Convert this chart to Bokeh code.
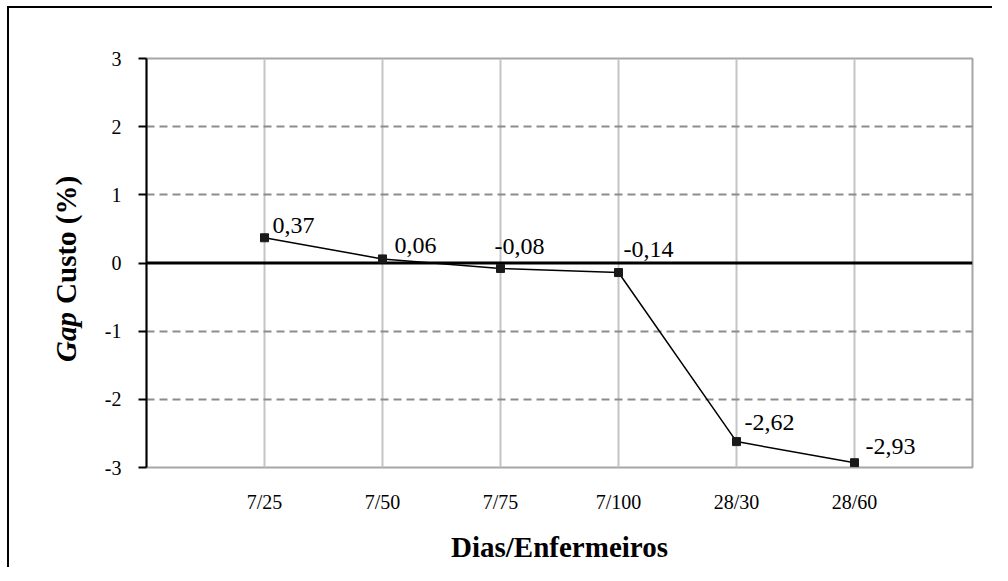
import math
from bokeh.plotting import figure
from bokeh.models import ColumnDataSource, FixedTicker, Span, Label, LabelSet
from bokeh.embed import file_html
from bokeh.resources import INLINE

categories = ["7/25", "7/50", "7/75", "7/100", "28/30", "28/60"]
gap_cost = [0.37, 0.06, -0.08, -0.14, -2.62, -2.93]
y_ticks = [-3, -2, -1, 0, 1, 2, 3]

# label offsets (pixels) as placed in the original chart
label_dx = [8, 12, -6, 5, 8, 11]
label_dy = [12, 13, 22, 23, 19, 16]

FONT = "Liberation Serif"

xs = list(range(1, len(categories) + 1))
src = ColumnDataSource(dict(
    x=xs, y=gap_cost,
    txt=[f"{v:.2f}".replace(".", ",") for v in gap_cost],
    dx=label_dx, dy=label_dy,
))

p = figure(frame_width=826, frame_height=409,
           min_border_left=137, min_border_top=50, min_border_right=20, min_border_bottom=100,
           x_range=(0, len(categories) + 1), y_range=(-3, 3),
           output_backend="svg", toolbar_location=None)
p.styles = {"margin-left": "7px", "margin-top": "6px",
            "border-left": "2px solid #000", "border-top": "2px solid #000"}
p.background_fill_color = "white"
p.border_fill_color = "white"
p.outline_line_color = "#a6a6a6"
p.outline_line_width = 2

# x axis
p.xaxis.ticker = FixedTicker(ticks=xs)
p.xaxis.major_label_overrides = {x: c for x, c in zip(xs, categories)}
p.xaxis.axis_line_color = None
p.xaxis.major_tick_line_color = None
p.xaxis.minor_tick_line_color = None
p.xaxis.major_label_text_font = FONT
p.xaxis.major_label_text_font_size = "20px"
p.xaxis.major_label_text_color = "black"
p.xaxis.major_label_standoff = 17
p.xaxis.axis_label = "Dias/Enfermeiros"
p.xaxis.axis_label_text_font = FONT
p.xaxis.axis_label_text_font_style = "bold"
p.xaxis.axis_label_text_font_size = "29px"
p.xaxis.axis_label_text_color = "black"
p.xaxis.axis_label_standoff = 15

# y axis
p.yaxis.ticker = FixedTicker(ticks=y_ticks)
p.yaxis.major_label_overrides = {t: str(t) for t in y_ticks}
p.yaxis.axis_line_color = "black"
p.yaxis.axis_line_width = 2
p.yaxis.major_tick_line_color = "black"
p.yaxis.major_tick_line_width = 2
p.yaxis.major_tick_out = 8
p.yaxis.major_tick_in = 0
p.yaxis.minor_tick_line_color = None
p.yaxis.major_label_text_font = FONT
p.yaxis.major_label_text_font_size = "20px"
p.yaxis.major_label_text_color = "black"
p.yaxis.major_label_standoff = 17

# grids
p.xgrid.ticker = FixedTicker(ticks=xs)
p.xgrid.grid_line_color = "#c4c4c4"
p.xgrid.grid_line_width = 2
p.ygrid.ticker = FixedTicker(ticks=[t for t in y_ticks if t not in (-3, 0, 3)])
p.ygrid.grid_line_color = "#8c8c8c"
p.ygrid.grid_line_width = 2
p.ygrid.grid_line_dash = "8 5"

zero = Span(location=0, dimension="width", line_color="black", line_width=3, level="underlay")
p.add_layout(zero)

# series
p.line("x", "y", source=src, line_color="black", line_width=1.5)
p.scatter("x", "y", source=src, marker="square", size=8, fill_color="#1a1a1a", line_color="#1a1a1a")
labels = LabelSet(x="x", y="y", text="txt", source=src, x_offset="dx", y_offset="dy",
                  text_font=FONT, text_font_size="24px", text_color="black",
                  text_align="left", text_baseline="middle")
p.add_layout(labels)

# y axis title with mixed styles, placed in the left side panel (not clipped)
p.add_layout(Label(x=-0.685, y=-0.6, text="Custo (%)", angle=math.pi / 2,
                   text_font=FONT, text_font_style="bold", text_font_size="29px",
                   text_color="black", text_align="left", text_baseline="middle"), "left")
p.add_layout(Label(x=-0.685, y=-0.72, text="Gap", angle=math.pi / 2,
                   text_font=FONT, text_font_style="bold italic", text_font_size="29px",
                   text_color="black", text_align="right", text_baseline="middle"), "left")

open("out.html", "w").write(file_html(p, INLINE))
